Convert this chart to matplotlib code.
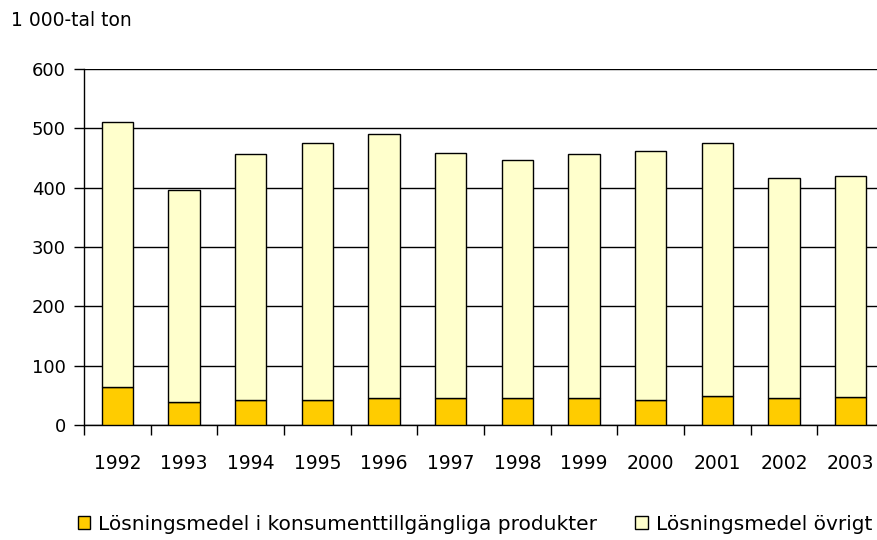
import numpy as np
import matplotlib
matplotlib.use("Agg")
import matplotlib.pyplot as plt
from matplotlib.patches import Patch

years = ["1992", "1993", "1994", "1995", "1996", "1997",
         "1998", "1999", "2000", "2001", "2002", "2003"]
totals = [510, 396, 456, 475, 490, 458, 446, 456, 461, 475, 416, 419]
konsument = [64, 38, 42, 42, 45, 45, 45, 45, 42, 49, 45, 48]
ovrigt = [t - k for t, k in zip(totals, konsument)]

plt.rcParams['font.family'] = ['DejaVu Sans']

fig = plt.figure(figsize=(8.77, 5.4), dpi=100)
ax = fig.add_axes([84/877, 115/540, 800/877, 356/540])

x = np.arange(len(years))
ax.bar(x, konsument, width=0.47, color='#FFCC00', edgecolor='black', linewidth=1, zorder=3)
ax.bar(x, ovrigt, width=0.47, bottom=konsument, color='#FFFFCC', edgecolor='black', linewidth=1, zorder=3)

ax.set_xlim(-0.5, len(years) - 0.5)
ax.set_ylim(0, 600)
ax.set_yticks(range(0, 601, 100))
ax.yaxis.grid(True, color='black', linewidth=1, zorder=0)
ax.set_axisbelow(True)

ax.set_xticks(x)
ax.set_xticklabels(years, fontsize=13.5)
ax.set_xticks(np.arange(-0.5, len(years)), minor=True)
ax.tick_params(axis='x', which='major', length=0, pad=21)
ax.tick_params(axis='x', which='minor', length=7, width=1, direction='out')
ax.tick_params(axis='y', length=7, width=1, labelsize=13, pad=6)

for s in ['top', 'right']:
    ax.spines[s].set_visible(False)
for s in ['left', 'bottom']:
    ax.spines[s].set_color('black')
    ax.spines[s].set_linewidth(1)

fig.text(11/877, 1 - 20/540, "1 000-tal ton", fontsize=13.5, va='center', ha='left')

handles = [Patch(facecolor='#FFCC00', edgecolor='black', label='Lösningsmedel i konsumenttillgängliga produkter'),
           Patch(facecolor='#FFFFCC', edgecolor='black', label='Lösningsmedel övrigt')]
fig.legend(handles=handles, loc='center', bbox_to_anchor=(475/877, 1 - 524/540), ncol=2,
           frameon=False, fontsize=14.5, handlelength=0.6, handleheight=0.6,
           handletextpad=0.4, columnspacing=1.9)

fig.savefig("out.png", dpi=100)
